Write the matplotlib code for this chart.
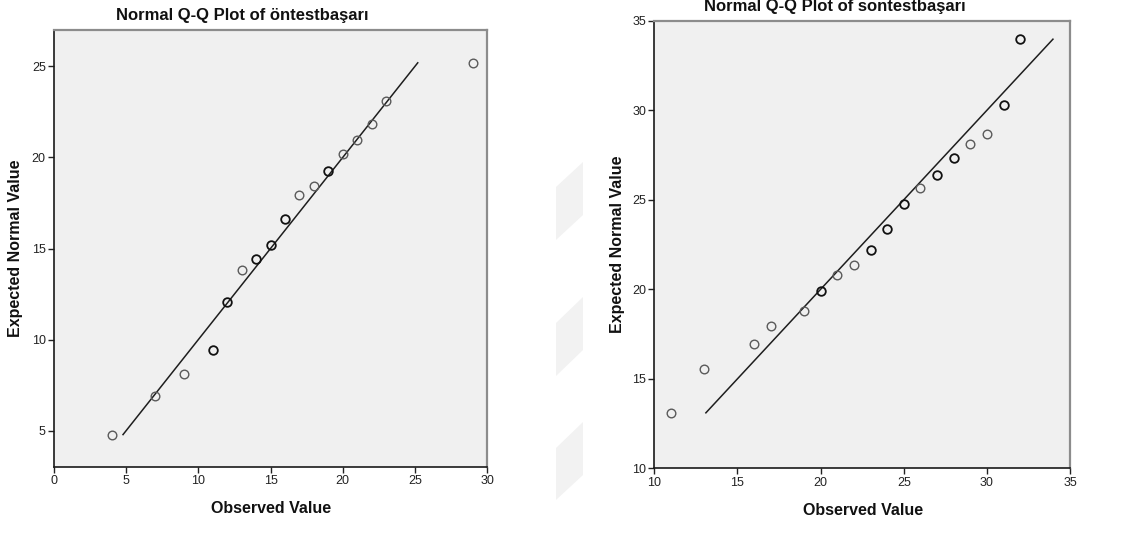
import numpy as np
import matplotlib
matplotlib.use('Agg')
import matplotlib.pyplot as plt
from matplotlib.patches import Polygon

plt.rcParams['font.family'] = ['Liberation Sans', 'DejaVu Sans']

# --- data: observed value, expected normal value, number of cases ---
pre_observed = [4, 7, 9, 11, 12, 13, 14, 15, 16, 17, 18, 19, 20, 21, 22, 23, 29]
pre_expected = [4.78, 6.92, 8.12, 9.45, 12.04, 13.80, 14.40, 15.20, 16.62,
				17.95, 18.45, 19.25, 20.18, 20.95, 21.86, 23.08, 25.20]
pre_counts = [1, 1, 1, 2, 3, 1, 2, 2, 3, 1, 1, 2, 1, 1, 1, 1, 1]

post_observed = [11, 13, 16, 17, 19, 20, 21, 22, 23, 24, 25, 26, 27, 28, 29, 30, 31, 32]
post_expected = [13.10, 15.53, 16.94, 17.97, 18.80, 19.90, 20.82, 21.37, 22.18,
				 23.37, 24.77, 25.66, 26.37, 27.34, 28.12, 28.69, 30.31, 33.97]
post_counts = [1, 1, 1, 1, 1, 2, 1, 1, 2, 2, 2, 1, 2, 2, 1, 1, 2, 2]

panels = [
	dict(title='Normal Q-Q Plot of öntestbaşarı', obs=pre_observed, exp=pre_expected,
		 cnt=pre_counts, xlim=(0, 30), ylim=(3, 27), yticks=[5, 10, 15, 20, 25],
		 rect=[0.0476, 0.1509, 0.3815, 0.7945], tx=0.2137, ty=0.971),
	dict(title='Normal Q-Q Plot of sontestbaşarı', obs=post_observed, exp=post_expected,
		 cnt=post_counts, xlim=(10, 35), ylim=(10, 35), yticks=[10, 15, 20, 25, 30, 35],
		 rect=[0.5765, 0.1485, 0.3663, 0.8138], tx=0.7357, ty=0.989),
]

fig = plt.figure(figsize=(11.35, 5.5), dpi=100)
fig.patch.set_facecolor('white')

# faint watermark stripes between the panels
for top_l, top_r in [(187, 162), (323, 297), (448, 422)]:
	h = 53
	pts = [(556, top_l), (583, top_r), (583, min(top_r + h, 500)), (556, min(top_l + h, 500))]
	pts = [(x / 1135, 1 - y / 550) for x, y in pts]
	fig.patches.append(Polygon(pts, closed=True, transform=fig.transFigure,
							   facecolor='#f2f2f2', edgecolor='none', zorder=0))

for p in panels:
	ax = fig.add_axes(p['rect'])
	ax.set_facecolor('#f0f0f0')
	ax.set_xlim(*p['xlim'])
	ax.set_ylim(*p['ylim'])
	ax.set_xticks(np.arange(p['xlim'][0], p['xlim'][1] + 1, 5))
	ax.set_yticks(p['yticks'])
	ax.tick_params(direction='out', length=4.5, width=1, colors='#222222',
				   labelsize=9, pad=1.5)

	for side in ['left', 'bottom']:
		ax.spines[side].set_color('#1a1a1a')
		ax.spines[side].set_linewidth(1.2)
	for side in ['top', 'right']:
		ax.spines[side].set_color('#8c8c8c')
		ax.spines[side].set_linewidth(1.6)

	# reference line over the range of expected values
	lo, hi = min(p['exp']), max(p['exp'])
	ax.plot([lo, hi], [lo, hi], color='#1e1e1e', lw=1.1, zorder=2)

	for x, y, c in zip(p['obs'], p['exp'], p['cnt']):
		ec = '#5a5a5a' if c == 1 else '#111111'
		mew = 1.0 if c == 1 else 1.3
		ax.plot(x, y, 'o', ms=6.2, mfc='none', mec=ec, mew=mew, zorder=3)

	ax.set_xlabel('Observed Value', fontsize=11.5, fontweight='bold', color='#111111')
	ax.set_ylabel('Expected Normal Value', fontsize=11.5, fontweight='bold', color='#111111')
	ax.xaxis.set_label_coords(0.501, -0.094)
	ax.xaxis.label.set_va('center')
	ax.yaxis.set_label_coords(-0.088, 0.5)
	ax.yaxis.label.set_va('center')

	fig.text(p['tx'], p['ty'], p['title'], ha='center', va='center',
			 fontsize=12, fontweight='bold', color='#111111')

fig.savefig('out.png', dpi=100)
